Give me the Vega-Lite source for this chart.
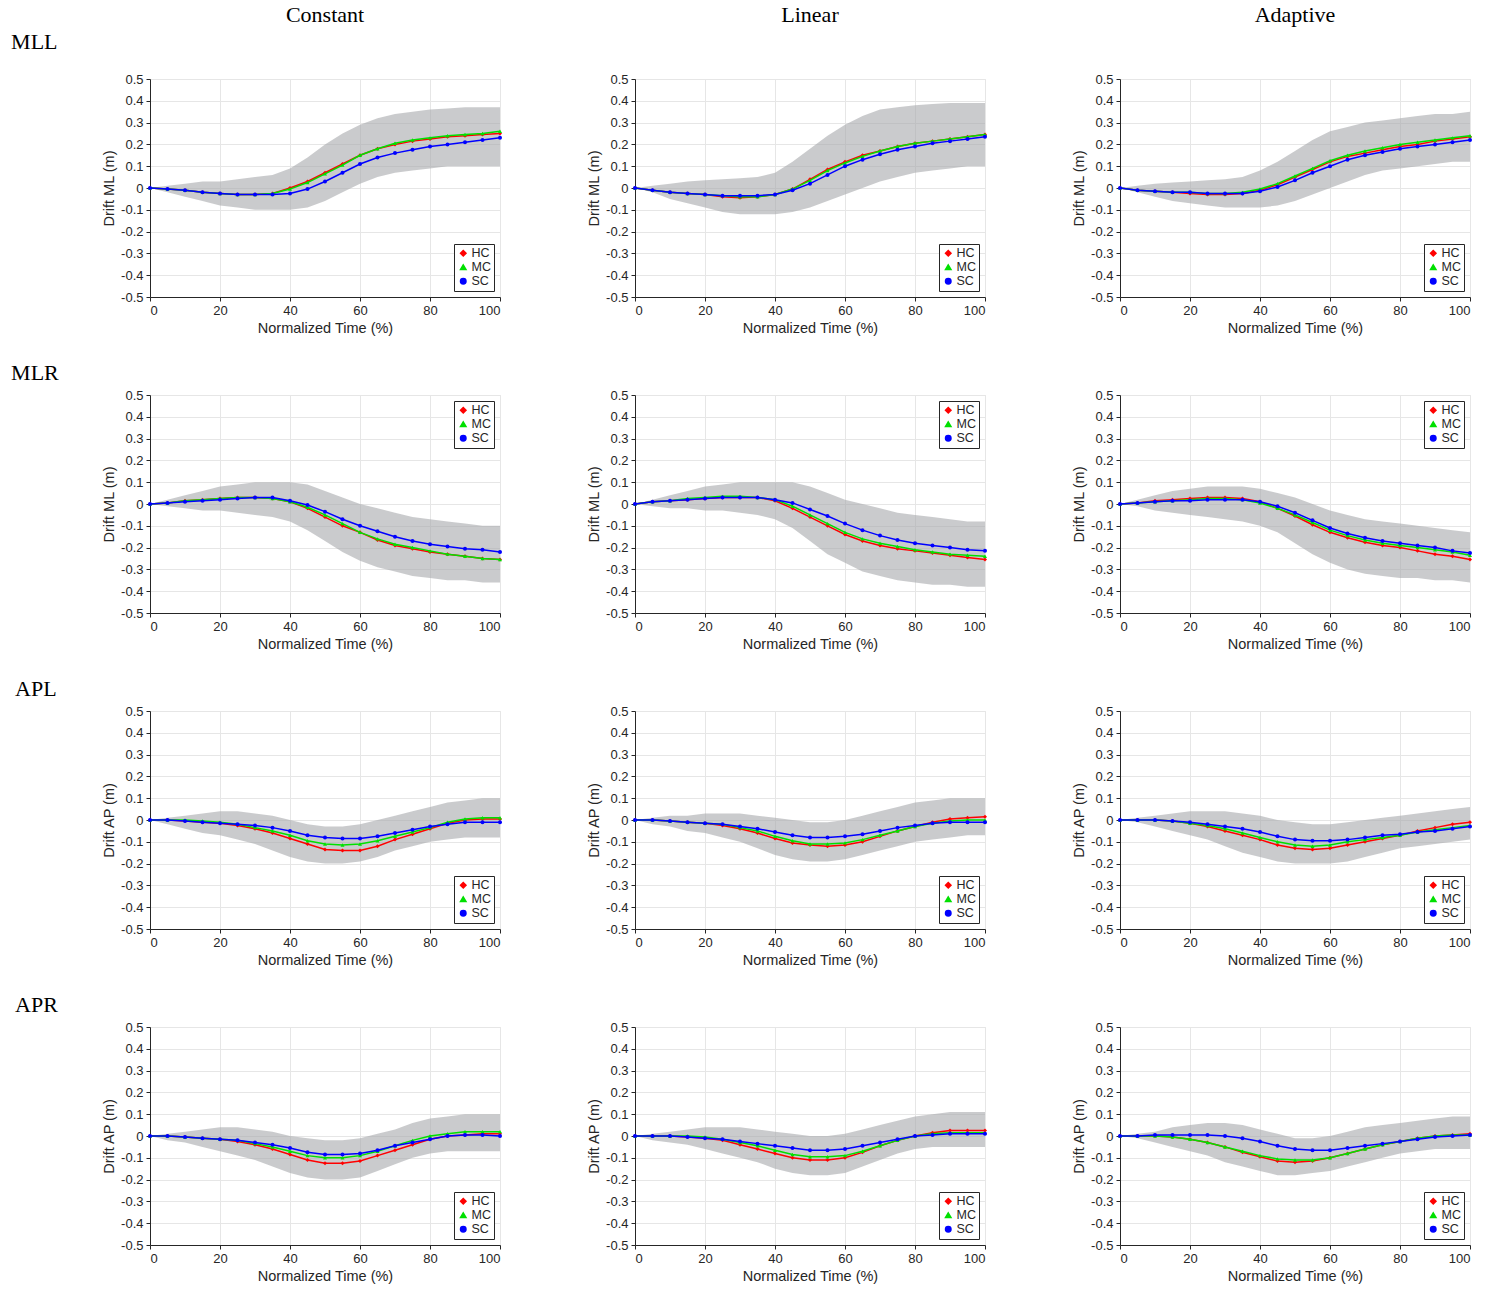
{
"$schema":"https://vega.github.io/schema/vega-lite/v6.json",
"padding":{"left":11,"top":3,"right":5,"bottom":2},
"config":{
 "font":"Liberation Sans",
 "view":{"stroke":"#e2e2e2"},
 "axis":{"labelFontSize":13,"titleFontSize":14.5,"titleFontWeight":"normal","gridColor":"#e6e6e6","domainColor":"#262626","tickColor":"#262626","labelColor":"#262626","titleColor":"#262626","tickSize":4,"labelOverlap":false,"labelPadding":3},
 "axisY":{"titlePadding":4,"labelOverlap":false,"tickCount":11},
 "legend":{"strokeColor":"#262626","fillColor":"white","padding":3,"labelFontSize":12.5,"labelColor":"#262626","symbolSize":30,"rowPadding":1,"offset":6,"symbolStrokeWidth":1.5,"labelOffset":2},
 "title":{"font":"Liberation Serif","fontSize":22,"fontWeight":"normal","color":"black"}
},
"datasets":{
"MLL_C":[
{"t":0,"HC":0,"MC":0,"SC":0,"lo":0,"hi":0},
{"t":5,"HC":-0.005,"MC":-0.005,"SC":-0.005,"lo":-0.02,"hi":0.01},
{"t":10,"HC":-0.01,"MC":-0.01,"SC":-0.01,"lo":-0.04,"hi":0.02},
{"t":15,"HC":-0.02,"MC":-0.02,"SC":-0.02,"lo":-0.06,"hi":0.03},
{"t":20,"HC":-0.025,"MC":-0.025,"SC":-0.025,"lo":-0.08,"hi":0.03},
{"t":25,"HC":-0.03,"MC":-0.03,"SC":-0.03,"lo":-0.09,"hi":0.04},
{"t":30,"HC":-0.03,"MC":-0.03,"SC":-0.03,"lo":-0.1,"hi":0.05},
{"t":35,"HC":-0.025,"MC":-0.025,"SC":-0.03,"lo":-0.1,"hi":0.06},
{"t":40,"HC":0,"MC":-0.005,"SC":-0.025,"lo":-0.1,"hi":0.09},
{"t":45,"HC":0.03,"MC":0.025,"SC":-0.005,"lo":-0.09,"hi":0.14},
{"t":50,"HC":0.07,"MC":0.065,"SC":0.03,"lo":-0.06,"hi":0.2},
{"t":55,"HC":0.11,"MC":0.105,"SC":0.07,"lo":-0.02,"hi":0.25},
{"t":60,"HC":0.15,"MC":0.15,"SC":0.11,"lo":0.02,"hi":0.29},
{"t":65,"HC":0.18,"MC":0.18,"SC":0.14,"lo":0.05,"hi":0.32},
{"t":70,"HC":0.2,"MC":0.205,"SC":0.16,"lo":0.07,"hi":0.34},
{"t":75,"HC":0.215,"MC":0.22,"SC":0.175,"lo":0.08,"hi":0.35},
{"t":80,"HC":0.225,"MC":0.23,"SC":0.19,"lo":0.09,"hi":0.36},
{"t":85,"HC":0.235,"MC":0.24,"SC":0.2,"lo":0.1,"hi":0.365},
{"t":90,"HC":0.24,"MC":0.245,"SC":0.21,"lo":0.1,"hi":0.37},
{"t":95,"HC":0.245,"MC":0.25,"SC":0.22,"lo":0.1,"hi":0.37},
{"t":100,"HC":0.25,"MC":0.26,"SC":0.23,"lo":0.1,"hi":0.37}],
"MLL_L":[
{"t":0,"HC":0,"MC":0,"SC":0,"lo":0,"hi":0},
{"t":5,"HC":-0.01,"MC":-0.01,"SC":-0.01,"lo":-0.02,"hi":0.01},
{"t":10,"HC":-0.02,"MC":-0.02,"SC":-0.02,"lo":-0.05,"hi":0.02},
{"t":15,"HC":-0.025,"MC":-0.025,"SC":-0.025,"lo":-0.07,"hi":0.03},
{"t":20,"HC":-0.03,"MC":-0.03,"SC":-0.03,"lo":-0.09,"hi":0.035},
{"t":25,"HC":-0.04,"MC":-0.035,"SC":-0.035,"lo":-0.11,"hi":0.04},
{"t":30,"HC":-0.045,"MC":-0.04,"SC":-0.035,"lo":-0.12,"hi":0.045},
{"t":35,"HC":-0.04,"MC":-0.04,"SC":-0.035,"lo":-0.12,"hi":0.05},
{"t":40,"HC":-0.03,"MC":-0.03,"SC":-0.03,"lo":-0.12,"hi":0.07},
{"t":45,"HC":-0.005,"MC":-0.005,"SC":-0.01,"lo":-0.11,"hi":0.12},
{"t":50,"HC":0.04,"MC":0.035,"SC":0.02,"lo":-0.09,"hi":0.18},
{"t":55,"HC":0.085,"MC":0.08,"SC":0.06,"lo":-0.06,"hi":0.24},
{"t":60,"HC":0.12,"MC":0.115,"SC":0.1,"lo":-0.03,"hi":0.29},
{"t":65,"HC":0.15,"MC":0.145,"SC":0.13,"lo":0,"hi":0.33},
{"t":70,"HC":0.17,"MC":0.17,"SC":0.155,"lo":0.03,"hi":0.36},
{"t":75,"HC":0.19,"MC":0.19,"SC":0.175,"lo":0.05,"hi":0.37},
{"t":80,"HC":0.205,"MC":0.205,"SC":0.19,"lo":0.07,"hi":0.38},
{"t":85,"HC":0.215,"MC":0.215,"SC":0.205,"lo":0.08,"hi":0.385},
{"t":90,"HC":0.225,"MC":0.225,"SC":0.215,"lo":0.09,"hi":0.39},
{"t":95,"HC":0.235,"MC":0.235,"SC":0.225,"lo":0.1,"hi":0.39},
{"t":100,"HC":0.245,"MC":0.245,"SC":0.235,"lo":0.1,"hi":0.39}],
"MLL_A":[
{"t":0,"HC":0,"MC":0,"SC":0,"lo":0,"hi":0},
{"t":5,"HC":-0.01,"MC":-0.01,"SC":-0.01,"lo":-0.02,"hi":0.01},
{"t":10,"HC":-0.015,"MC":-0.015,"SC":-0.015,"lo":-0.04,"hi":0.02},
{"t":15,"HC":-0.02,"MC":-0.02,"SC":-0.02,"lo":-0.06,"hi":0.025},
{"t":20,"HC":-0.025,"MC":-0.02,"SC":-0.02,"lo":-0.07,"hi":0.03},
{"t":25,"HC":-0.03,"MC":-0.025,"SC":-0.025,"lo":-0.08,"hi":0.035},
{"t":30,"HC":-0.03,"MC":-0.025,"SC":-0.025,"lo":-0.09,"hi":0.04},
{"t":35,"HC":-0.025,"MC":-0.02,"SC":-0.025,"lo":-0.09,"hi":0.05},
{"t":40,"HC":-0.01,"MC":-0.005,"SC":-0.015,"lo":-0.09,"hi":0.08},
{"t":45,"HC":0.015,"MC":0.02,"SC":0.005,"lo":-0.08,"hi":0.12},
{"t":50,"HC":0.05,"MC":0.055,"SC":0.035,"lo":-0.06,"hi":0.17},
{"t":55,"HC":0.085,"MC":0.09,"SC":0.07,"lo":-0.03,"hi":0.22},
{"t":60,"HC":0.12,"MC":0.125,"SC":0.1,"lo":0,"hi":0.26},
{"t":65,"HC":0.145,"MC":0.15,"SC":0.13,"lo":0.03,"hi":0.28},
{"t":70,"HC":0.16,"MC":0.17,"SC":0.15,"lo":0.06,"hi":0.3},
{"t":75,"HC":0.175,"MC":0.185,"SC":0.165,"lo":0.08,"hi":0.31},
{"t":80,"HC":0.19,"MC":0.2,"SC":0.18,"lo":0.09,"hi":0.32},
{"t":85,"HC":0.2,"MC":0.21,"SC":0.19,"lo":0.1,"hi":0.33},
{"t":90,"HC":0.215,"MC":0.22,"SC":0.2,"lo":0.11,"hi":0.34},
{"t":95,"HC":0.225,"MC":0.23,"SC":0.21,"lo":0.12,"hi":0.34},
{"t":100,"HC":0.235,"MC":0.24,"SC":0.22,"lo":0.12,"hi":0.35}],
"MLR_C":[
{"t":0,"HC":0,"MC":0,"SC":0,"lo":0,"hi":0},
{"t":5,"HC":0.005,"MC":0.005,"SC":0.005,"lo":-0.01,"hi":0.02},
{"t":10,"HC":0.015,"MC":0.015,"SC":0.01,"lo":-0.02,"hi":0.04},
{"t":15,"HC":0.02,"MC":0.02,"SC":0.015,"lo":-0.03,"hi":0.06},
{"t":20,"HC":0.025,"MC":0.025,"SC":0.02,"lo":-0.03,"hi":0.08},
{"t":25,"HC":0.03,"MC":0.03,"SC":0.025,"lo":-0.04,"hi":0.09},
{"t":30,"HC":0.03,"MC":0.03,"SC":0.03,"lo":-0.05,"hi":0.1},
{"t":35,"HC":0.025,"MC":0.025,"SC":0.03,"lo":-0.06,"hi":0.1},
{"t":40,"HC":0.01,"MC":0.01,"SC":0.015,"lo":-0.08,"hi":0.1},
{"t":45,"HC":-0.02,"MC":-0.015,"SC":-0.005,"lo":-0.12,"hi":0.09},
{"t":50,"HC":-0.06,"MC":-0.05,"SC":-0.035,"lo":-0.17,"hi":0.06},
{"t":55,"HC":-0.1,"MC":-0.09,"SC":-0.07,"lo":-0.22,"hi":0.03},
{"t":60,"HC":-0.13,"MC":-0.13,"SC":-0.1,"lo":-0.26,"hi":0},
{"t":65,"HC":-0.165,"MC":-0.16,"SC":-0.125,"lo":-0.29,"hi":-0.02},
{"t":70,"HC":-0.19,"MC":-0.185,"SC":-0.15,"lo":-0.31,"hi":-0.04},
{"t":75,"HC":-0.205,"MC":-0.2,"SC":-0.17,"lo":-0.33,"hi":-0.06},
{"t":80,"HC":-0.22,"MC":-0.215,"SC":-0.185,"lo":-0.34,"hi":-0.07},
{"t":85,"HC":-0.23,"MC":-0.23,"SC":-0.195,"lo":-0.35,"hi":-0.08},
{"t":90,"HC":-0.24,"MC":-0.24,"SC":-0.205,"lo":-0.35,"hi":-0.09},
{"t":95,"HC":-0.25,"MC":-0.25,"SC":-0.21,"lo":-0.36,"hi":-0.1},
{"t":100,"HC":-0.255,"MC":-0.255,"SC":-0.22,"lo":-0.36,"hi":-0.1}],
"MLR_L":[
{"t":0,"HC":0,"MC":0,"SC":0,"lo":0,"hi":0},
{"t":5,"HC":0.01,"MC":0.01,"SC":0.01,"lo":-0.01,"hi":0.02},
{"t":10,"HC":0.015,"MC":0.015,"SC":0.015,"lo":-0.02,"hi":0.04},
{"t":15,"HC":0.02,"MC":0.025,"SC":0.02,"lo":-0.02,"hi":0.06},
{"t":20,"HC":0.025,"MC":0.03,"SC":0.025,"lo":-0.03,"hi":0.08},
{"t":25,"HC":0.03,"MC":0.035,"SC":0.03,"lo":-0.03,"hi":0.09},
{"t":30,"HC":0.03,"MC":0.035,"SC":0.03,"lo":-0.04,"hi":0.1},
{"t":35,"HC":0.03,"MC":0.03,"SC":0.03,"lo":-0.05,"hi":0.1},
{"t":40,"HC":0.015,"MC":0.02,"SC":0.02,"lo":-0.07,"hi":0.1},
{"t":45,"HC":-0.02,"MC":-0.01,"SC":0.005,"lo":-0.11,"hi":0.1},
{"t":50,"HC":-0.06,"MC":-0.05,"SC":-0.025,"lo":-0.17,"hi":0.08},
{"t":55,"HC":-0.1,"MC":-0.09,"SC":-0.055,"lo":-0.23,"hi":0.05},
{"t":60,"HC":-0.14,"MC":-0.13,"SC":-0.09,"lo":-0.27,"hi":0.02},
{"t":65,"HC":-0.17,"MC":-0.16,"SC":-0.12,"lo":-0.31,"hi":0},
{"t":70,"HC":-0.19,"MC":-0.18,"SC":-0.145,"lo":-0.33,"hi":-0.02},
{"t":75,"HC":-0.205,"MC":-0.195,"SC":-0.165,"lo":-0.35,"hi":-0.04},
{"t":80,"HC":-0.215,"MC":-0.21,"SC":-0.18,"lo":-0.36,"hi":-0.05},
{"t":85,"HC":-0.225,"MC":-0.22,"SC":-0.19,"lo":-0.37,"hi":-0.06},
{"t":90,"HC":-0.235,"MC":-0.23,"SC":-0.2,"lo":-0.37,"hi":-0.07},
{"t":95,"HC":-0.245,"MC":-0.235,"SC":-0.21,"lo":-0.38,"hi":-0.08},
{"t":100,"HC":-0.255,"MC":-0.24,"SC":-0.215,"lo":-0.38,"hi":-0.08}],
"MLR_A":[
{"t":0,"HC":0,"MC":0,"SC":0,"lo":0,"hi":0},
{"t":5,"HC":0.005,"MC":0.005,"SC":0.005,"lo":-0.01,"hi":0.02},
{"t":10,"HC":0.015,"MC":0.01,"SC":0.01,"lo":-0.03,"hi":0.04},
{"t":15,"HC":0.02,"MC":0.015,"SC":0.015,"lo":-0.04,"hi":0.06},
{"t":20,"HC":0.025,"MC":0.02,"SC":0.015,"lo":-0.05,"hi":0.07},
{"t":25,"HC":0.03,"MC":0.025,"SC":0.02,"lo":-0.06,"hi":0.08},
{"t":30,"HC":0.03,"MC":0.025,"SC":0.02,"lo":-0.07,"hi":0.08},
{"t":35,"HC":0.025,"MC":0.02,"SC":0.02,"lo":-0.08,"hi":0.08},
{"t":40,"HC":0.01,"MC":0.005,"SC":0.01,"lo":-0.1,"hi":0.07},
{"t":45,"HC":-0.02,"MC":-0.02,"SC":-0.01,"lo":-0.13,"hi":0.05},
{"t":50,"HC":-0.055,"MC":-0.05,"SC":-0.04,"lo":-0.18,"hi":0.03},
{"t":55,"HC":-0.095,"MC":-0.085,"SC":-0.075,"lo":-0.23,"hi":0},
{"t":60,"HC":-0.13,"MC":-0.12,"SC":-0.11,"lo":-0.27,"hi":-0.03},
{"t":65,"HC":-0.155,"MC":-0.145,"SC":-0.135,"lo":-0.3,"hi":-0.05},
{"t":70,"HC":-0.175,"MC":-0.165,"SC":-0.155,"lo":-0.32,"hi":-0.07},
{"t":75,"HC":-0.19,"MC":-0.18,"SC":-0.17,"lo":-0.33,"hi":-0.08},
{"t":80,"HC":-0.2,"MC":-0.19,"SC":-0.18,"lo":-0.34,"hi":-0.09},
{"t":85,"HC":-0.215,"MC":-0.2,"SC":-0.19,"lo":-0.34,"hi":-0.1},
{"t":90,"HC":-0.23,"MC":-0.21,"SC":-0.2,"lo":-0.35,"hi":-0.11},
{"t":95,"HC":-0.24,"MC":-0.22,"SC":-0.215,"lo":-0.35,"hi":-0.12},
{"t":100,"HC":-0.255,"MC":-0.235,"SC":-0.225,"lo":-0.36,"hi":-0.13}],
"APL_C":[
{"t":0,"HC":0,"MC":0,"SC":0,"lo":0,"hi":0},
{"t":5,"HC":0,"MC":0,"SC":0,"lo":-0.02,"hi":0.01},
{"t":10,"HC":-0.005,"MC":0,"SC":-0.005,"lo":-0.04,"hi":0.02},
{"t":15,"HC":-0.01,"MC":-0.005,"SC":-0.01,"lo":-0.06,"hi":0.03},
{"t":20,"HC":-0.015,"MC":-0.01,"SC":-0.015,"lo":-0.07,"hi":0.04},
{"t":25,"HC":-0.025,"MC":-0.02,"SC":-0.02,"lo":-0.09,"hi":0.04},
{"t":30,"HC":-0.04,"MC":-0.035,"SC":-0.025,"lo":-0.11,"hi":0.03},
{"t":35,"HC":-0.06,"MC":-0.05,"SC":-0.035,"lo":-0.14,"hi":0.02},
{"t":40,"HC":-0.085,"MC":-0.07,"SC":-0.05,"lo":-0.17,"hi":0},
{"t":45,"HC":-0.11,"MC":-0.095,"SC":-0.07,"lo":-0.19,"hi":-0.02},
{"t":50,"HC":-0.135,"MC":-0.11,"SC":-0.08,"lo":-0.2,"hi":-0.03},
{"t":55,"HC":-0.14,"MC":-0.115,"SC":-0.085,"lo":-0.2,"hi":-0.03},
{"t":60,"HC":-0.14,"MC":-0.11,"SC":-0.085,"lo":-0.19,"hi":-0.02},
{"t":65,"HC":-0.12,"MC":-0.095,"SC":-0.075,"lo":-0.17,"hi":0},
{"t":70,"HC":-0.09,"MC":-0.075,"SC":-0.06,"lo":-0.14,"hi":0.02},
{"t":75,"HC":-0.065,"MC":-0.055,"SC":-0.045,"lo":-0.12,"hi":0.04},
{"t":80,"HC":-0.04,"MC":-0.035,"SC":-0.03,"lo":-0.1,"hi":0.06},
{"t":85,"HC":-0.015,"MC":-0.01,"SC":-0.02,"lo":-0.09,"hi":0.08},
{"t":90,"HC":0,"MC":0.005,"SC":-0.01,"lo":-0.08,"hi":0.09},
{"t":95,"HC":0.005,"MC":0.01,"SC":-0.01,"lo":-0.08,"hi":0.1},
{"t":100,"HC":0.005,"MC":0.01,"SC":-0.01,"lo":-0.08,"hi":0.1}],
"APL_L":[
{"t":0,"HC":0,"MC":0,"SC":0,"lo":0,"hi":0},
{"t":5,"HC":0,"MC":0,"SC":0,"lo":-0.02,"hi":0.01},
{"t":10,"HC":-0.005,"MC":-0.005,"SC":-0.005,"lo":-0.03,"hi":0.02},
{"t":15,"HC":-0.01,"MC":-0.01,"SC":-0.01,"lo":-0.05,"hi":0.02},
{"t":20,"HC":-0.015,"MC":-0.015,"SC":-0.015,"lo":-0.06,"hi":0.03},
{"t":25,"HC":-0.025,"MC":-0.02,"SC":-0.02,"lo":-0.08,"hi":0.03},
{"t":30,"HC":-0.04,"MC":-0.035,"SC":-0.03,"lo":-0.1,"hi":0.03},
{"t":35,"HC":-0.06,"MC":-0.05,"SC":-0.04,"lo":-0.13,"hi":0.02},
{"t":40,"HC":-0.085,"MC":-0.075,"SC":-0.055,"lo":-0.16,"hi":0.01},
{"t":45,"HC":-0.105,"MC":-0.095,"SC":-0.07,"lo":-0.18,"hi":0},
{"t":50,"HC":-0.115,"MC":-0.11,"SC":-0.08,"lo":-0.19,"hi":-0.01},
{"t":55,"HC":-0.12,"MC":-0.11,"SC":-0.08,"lo":-0.19,"hi":-0.01},
{"t":60,"HC":-0.115,"MC":-0.105,"SC":-0.075,"lo":-0.18,"hi":0},
{"t":65,"HC":-0.1,"MC":-0.09,"SC":-0.065,"lo":-0.16,"hi":0.02},
{"t":70,"HC":-0.075,"MC":-0.07,"SC":-0.05,"lo":-0.14,"hi":0.04},
{"t":75,"HC":-0.05,"MC":-0.05,"SC":-0.035,"lo":-0.12,"hi":0.06},
{"t":80,"HC":-0.03,"MC":-0.03,"SC":-0.025,"lo":-0.1,"hi":0.08},
{"t":85,"HC":-0.01,"MC":-0.015,"SC":-0.015,"lo":-0.09,"hi":0.09},
{"t":90,"HC":0.005,"MC":-0.005,"SC":-0.01,"lo":-0.08,"hi":0.1},
{"t":95,"HC":0.01,"MC":0,"SC":-0.01,"lo":-0.07,"hi":0.1},
{"t":100,"HC":0.015,"MC":0,"SC":-0.01,"lo":-0.07,"hi":0.1}],
"APL_A":[
{"t":0,"HC":0,"MC":0,"SC":0,"lo":0,"hi":0},
{"t":5,"HC":0,"MC":0,"SC":0,"lo":-0.01,"hi":0.01},
{"t":10,"HC":0,"MC":0,"SC":0,"lo":-0.03,"hi":0.02},
{"t":15,"HC":-0.005,"MC":-0.005,"SC":-0.005,"lo":-0.05,"hi":0.03},
{"t":20,"HC":-0.015,"MC":-0.015,"SC":-0.01,"lo":-0.07,"hi":0.04},
{"t":25,"HC":-0.03,"MC":-0.025,"SC":-0.02,"lo":-0.09,"hi":0.04},
{"t":30,"HC":-0.05,"MC":-0.04,"SC":-0.03,"lo":-0.12,"hi":0.04},
{"t":35,"HC":-0.07,"MC":-0.06,"SC":-0.04,"lo":-0.15,"hi":0.03},
{"t":40,"HC":-0.09,"MC":-0.08,"SC":-0.055,"lo":-0.17,"hi":0.02},
{"t":45,"HC":-0.115,"MC":-0.1,"SC":-0.075,"lo":-0.19,"hi":0},
{"t":50,"HC":-0.13,"MC":-0.115,"SC":-0.09,"lo":-0.2,"hi":-0.01},
{"t":55,"HC":-0.135,"MC":-0.12,"SC":-0.095,"lo":-0.2,"hi":-0.02},
{"t":60,"HC":-0.13,"MC":-0.115,"SC":-0.095,"lo":-0.2,"hi":-0.02},
{"t":65,"HC":-0.115,"MC":-0.1,"SC":-0.09,"lo":-0.19,"hi":-0.01},
{"t":70,"HC":-0.1,"MC":-0.09,"SC":-0.08,"lo":-0.17,"hi":0},
{"t":75,"HC":-0.085,"MC":-0.08,"SC":-0.07,"lo":-0.15,"hi":0.01},
{"t":80,"HC":-0.07,"MC":-0.07,"SC":-0.065,"lo":-0.13,"hi":0.02},
{"t":85,"HC":-0.05,"MC":-0.055,"SC":-0.055,"lo":-0.12,"hi":0.03},
{"t":90,"HC":-0.035,"MC":-0.045,"SC":-0.05,"lo":-0.11,"hi":0.04},
{"t":95,"HC":-0.02,"MC":-0.035,"SC":-0.04,"lo":-0.1,"hi":0.05},
{"t":100,"HC":-0.01,"MC":-0.025,"SC":-0.03,"lo":-0.09,"hi":0.06}],
"APR_C":[
{"t":0,"HC":0,"MC":0,"SC":0,"lo":0,"hi":0},
{"t":5,"HC":0,"MC":0,"SC":0,"lo":-0.02,"hi":0.01},
{"t":10,"HC":-0.005,"MC":-0.005,"SC":-0.005,"lo":-0.03,"hi":0.02},
{"t":15,"HC":-0.01,"MC":-0.01,"SC":-0.01,"lo":-0.05,"hi":0.03},
{"t":20,"HC":-0.015,"MC":-0.015,"SC":-0.015,"lo":-0.07,"hi":0.04},
{"t":25,"HC":-0.025,"MC":-0.02,"SC":-0.02,"lo":-0.09,"hi":0.04},
{"t":30,"HC":-0.04,"MC":-0.035,"SC":-0.03,"lo":-0.11,"hi":0.03},
{"t":35,"HC":-0.06,"MC":-0.05,"SC":-0.04,"lo":-0.14,"hi":0.02},
{"t":40,"HC":-0.085,"MC":-0.07,"SC":-0.055,"lo":-0.17,"hi":0},
{"t":45,"HC":-0.11,"MC":-0.09,"SC":-0.075,"lo":-0.19,"hi":-0.01},
{"t":50,"HC":-0.125,"MC":-0.1,"SC":-0.085,"lo":-0.2,"hi":-0.02},
{"t":55,"HC":-0.125,"MC":-0.1,"SC":-0.085,"lo":-0.2,"hi":-0.02},
{"t":60,"HC":-0.115,"MC":-0.09,"SC":-0.08,"lo":-0.19,"hi":-0.01},
{"t":65,"HC":-0.09,"MC":-0.07,"SC":-0.065,"lo":-0.16,"hi":0.01},
{"t":70,"HC":-0.065,"MC":-0.045,"SC":-0.045,"lo":-0.13,"hi":0.03},
{"t":75,"HC":-0.04,"MC":-0.02,"SC":-0.03,"lo":-0.1,"hi":0.06},
{"t":80,"HC":-0.015,"MC":0,"SC":-0.015,"lo":-0.08,"hi":0.08},
{"t":85,"HC":0,"MC":0.01,"SC":0,"lo":-0.07,"hi":0.09},
{"t":90,"HC":0.005,"MC":0.02,"SC":0.005,"lo":-0.07,"hi":0.1},
{"t":95,"HC":0.01,"MC":0.02,"SC":0.005,"lo":-0.07,"hi":0.1},
{"t":100,"HC":0.01,"MC":0.02,"SC":0,"lo":-0.07,"hi":0.1}],
"APR_L":[
{"t":0,"HC":0,"MC":0,"SC":0,"lo":0,"hi":0},
{"t":5,"HC":0,"MC":0,"SC":0,"lo":-0.02,"hi":0.01},
{"t":10,"HC":0,"MC":0,"SC":0,"lo":-0.03,"hi":0.02},
{"t":15,"HC":-0.005,"MC":0,"SC":-0.005,"lo":-0.04,"hi":0.03},
{"t":20,"HC":-0.01,"MC":-0.005,"SC":-0.01,"lo":-0.06,"hi":0.04},
{"t":25,"HC":-0.02,"MC":-0.015,"SC":-0.015,"lo":-0.08,"hi":0.04},
{"t":30,"HC":-0.04,"MC":-0.03,"SC":-0.025,"lo":-0.1,"hi":0.04},
{"t":35,"HC":-0.06,"MC":-0.045,"SC":-0.035,"lo":-0.12,"hi":0.03},
{"t":40,"HC":-0.08,"MC":-0.065,"SC":-0.045,"lo":-0.15,"hi":0.02},
{"t":45,"HC":-0.1,"MC":-0.085,"SC":-0.055,"lo":-0.17,"hi":0.01},
{"t":50,"HC":-0.11,"MC":-0.095,"SC":-0.065,"lo":-0.18,"hi":0},
{"t":55,"HC":-0.11,"MC":-0.095,"SC":-0.065,"lo":-0.18,"hi":0},
{"t":60,"HC":-0.1,"MC":-0.09,"SC":-0.06,"lo":-0.17,"hi":0.01},
{"t":65,"HC":-0.075,"MC":-0.07,"SC":-0.045,"lo":-0.14,"hi":0.03},
{"t":70,"HC":-0.045,"MC":-0.045,"SC":-0.03,"lo":-0.11,"hi":0.05},
{"t":75,"HC":-0.02,"MC":-0.02,"SC":-0.015,"lo":-0.08,"hi":0.07},
{"t":80,"HC":0,"MC":0,"SC":0,"lo":-0.06,"hi":0.09},
{"t":85,"HC":0.015,"MC":0.01,"SC":0.005,"lo":-0.05,"hi":0.1},
{"t":90,"HC":0.025,"MC":0.015,"SC":0.01,"lo":-0.05,"hi":0.11},
{"t":95,"HC":0.025,"MC":0.015,"SC":0.01,"lo":-0.05,"hi":0.11},
{"t":100,"HC":0.025,"MC":0.015,"SC":0.01,"lo":-0.05,"hi":0.11}],
"APR_A":[
{"t":0,"HC":0,"MC":0,"SC":0,"lo":0,"hi":0},
{"t":5,"HC":0,"MC":0,"SC":0,"lo":-0.01,"hi":0.01},
{"t":10,"HC":0,"MC":0,"SC":0.005,"lo":-0.03,"hi":0.02},
{"t":15,"HC":-0.005,"MC":-0.005,"SC":0.005,"lo":-0.05,"hi":0.04},
{"t":20,"HC":-0.015,"MC":-0.015,"SC":0.005,"lo":-0.07,"hi":0.05},
{"t":25,"HC":-0.03,"MC":-0.03,"SC":0.005,"lo":-0.09,"hi":0.06},
{"t":30,"HC":-0.05,"MC":-0.05,"SC":0,"lo":-0.12,"hi":0.06},
{"t":35,"HC":-0.075,"MC":-0.07,"SC":-0.01,"lo":-0.14,"hi":0.05},
{"t":40,"HC":-0.095,"MC":-0.09,"SC":-0.025,"lo":-0.16,"hi":0.03},
{"t":45,"HC":-0.115,"MC":-0.105,"SC":-0.045,"lo":-0.18,"hi":0.01},
{"t":50,"HC":-0.12,"MC":-0.11,"SC":-0.06,"lo":-0.18,"hi":-0.01},
{"t":55,"HC":-0.115,"MC":-0.11,"SC":-0.065,"lo":-0.17,"hi":-0.01},
{"t":60,"HC":-0.1,"MC":-0.1,"SC":-0.065,"lo":-0.16,"hi":0},
{"t":65,"HC":-0.08,"MC":-0.08,"SC":-0.055,"lo":-0.14,"hi":0.02},
{"t":70,"HC":-0.06,"MC":-0.06,"SC":-0.045,"lo":-0.12,"hi":0.04},
{"t":75,"HC":-0.04,"MC":-0.04,"SC":-0.035,"lo":-0.1,"hi":0.05},
{"t":80,"HC":-0.025,"MC":-0.025,"SC":-0.025,"lo":-0.08,"hi":0.06},
{"t":85,"HC":-0.01,"MC":-0.01,"SC":-0.015,"lo":-0.07,"hi":0.07},
{"t":90,"HC":0,"MC":0,"SC":-0.005,"lo":-0.06,"hi":0.08},
{"t":95,"HC":0.005,"MC":0.005,"SC":0,"lo":-0.06,"hi":0.09},
{"t":100,"HC":0.01,"MC":0.005,"SC":0.005,"lo":-0.06,"hi":0.09}]
},
"resolve":{"legend":{"color":"independent","shape":"independent"}},
"spacing":26,
"vconcat":[
{"title":{"text":"MLL","anchor":"start","dx":-90,"offset":-50},"spacing":82,"resolve":{"legend":{"color":"independent","shape":"independent"}},"hconcat":[
 {"title":{"text":"Constant","offset":46},"width":350,"height":218,"data":{"name":"MLL_C"},"layer":[
  {"mark":{"type":"area","color":"#a6a8ab","opacity":0.6},"encoding":{"x":{"field":"t","type":"quantitative","scale":{"domain":[0,100]},"axis":{"values":[0,20,40,60,80,100],"title":"Normalized Time (%)"}},"y":{"field":"lo","type":"quantitative","scale":{"domain":[-0.5,0.5]},"axis":{"values":[-0.5,-0.4,-0.3,-0.2,-0.1,0,0.1,0.2,0.3,0.4,0.5],"tickCount":11,"labelOverlap":false,"labelExpr":"replace(format(datum.value,'.1~f'),'−','-')","title":"Drift ML (m)"}},"y2":{"field":"hi"}}},
  {"mark":{"type":"line","strokeWidth":1.5,"point":{"size":16,"filled":true}},"encoding":{"x":{"field":"t","type":"quantitative"},"y":{"field":"HC","type":"quantitative"},"color":{"datum":"HC","type":"nominal","scale":{"domain":["HC","MC","SC"],"range":["#ff0000","#00e000","#0000ff"]},"legend":{"title":null,"orient":"bottom-right"}},"shape":{"datum":"HC","type":"nominal","scale":{"domain":["HC","MC","SC"],"range":["diamond","triangle-up","circle"]},"legend":{"title":null,"orient":"bottom-right"}}}},
  {"mark":{"type":"line","strokeWidth":1.5,"point":{"size":16,"filled":true}},"encoding":{"x":{"field":"t","type":"quantitative"},"y":{"field":"MC","type":"quantitative"},"color":{"datum":"MC","type":"nominal"},"shape":{"datum":"MC","type":"nominal"}}},
  {"mark":{"type":"line","strokeWidth":1.5,"point":{"size":16,"filled":true}},"encoding":{"x":{"field":"t","type":"quantitative"},"y":{"field":"SC","type":"quantitative"},"color":{"datum":"SC","type":"nominal"},"shape":{"datum":"SC","type":"nominal"}}}
 ]},
 {"title":{"text":"Linear","offset":46},"width":350,"height":218,"data":{"name":"MLL_L"},"layer":[
  {"mark":{"type":"area","color":"#a6a8ab","opacity":0.6},"encoding":{"x":{"field":"t","type":"quantitative","scale":{"domain":[0,100]},"axis":{"values":[0,20,40,60,80,100],"title":"Normalized Time (%)"}},"y":{"field":"lo","type":"quantitative","scale":{"domain":[-0.5,0.5]},"axis":{"values":[-0.5,-0.4,-0.3,-0.2,-0.1,0,0.1,0.2,0.3,0.4,0.5],"tickCount":11,"labelOverlap":false,"labelExpr":"replace(format(datum.value,'.1~f'),'−','-')","title":"Drift ML (m)"}},"y2":{"field":"hi"}}},
  {"mark":{"type":"line","strokeWidth":1.5,"point":{"size":16,"filled":true}},"encoding":{"x":{"field":"t","type":"quantitative"},"y":{"field":"HC","type":"quantitative"},"color":{"datum":"HC","type":"nominal","scale":{"domain":["HC","MC","SC"],"range":["#ff0000","#00e000","#0000ff"]},"legend":{"title":null,"orient":"bottom-right"}},"shape":{"datum":"HC","type":"nominal","scale":{"domain":["HC","MC","SC"],"range":["diamond","triangle-up","circle"]},"legend":{"title":null,"orient":"bottom-right"}}}},
  {"mark":{"type":"line","strokeWidth":1.5,"point":{"size":16,"filled":true}},"encoding":{"x":{"field":"t","type":"quantitative"},"y":{"field":"MC","type":"quantitative"},"color":{"datum":"MC","type":"nominal"},"shape":{"datum":"MC","type":"nominal"}}},
  {"mark":{"type":"line","strokeWidth":1.5,"point":{"size":16,"filled":true}},"encoding":{"x":{"field":"t","type":"quantitative"},"y":{"field":"SC","type":"quantitative"},"color":{"datum":"SC","type":"nominal"},"shape":{"datum":"SC","type":"nominal"}}}
 ]},
 {"title":{"text":"Adaptive","offset":46},"width":350,"height":218,"data":{"name":"MLL_A"},"layer":[
  {"mark":{"type":"area","color":"#a6a8ab","opacity":0.6},"encoding":{"x":{"field":"t","type":"quantitative","scale":{"domain":[0,100]},"axis":{"values":[0,20,40,60,80,100],"title":"Normalized Time (%)"}},"y":{"field":"lo","type":"quantitative","scale":{"domain":[-0.5,0.5]},"axis":{"values":[-0.5,-0.4,-0.3,-0.2,-0.1,0,0.1,0.2,0.3,0.4,0.5],"tickCount":11,"labelOverlap":false,"labelExpr":"replace(format(datum.value,'.1~f'),'−','-')","title":"Drift ML (m)"}},"y2":{"field":"hi"}}},
  {"mark":{"type":"line","strokeWidth":1.5,"point":{"size":16,"filled":true}},"encoding":{"x":{"field":"t","type":"quantitative"},"y":{"field":"HC","type":"quantitative"},"color":{"datum":"HC","type":"nominal","scale":{"domain":["HC","MC","SC"],"range":["#ff0000","#00e000","#0000ff"]},"legend":{"title":null,"orient":"bottom-right"}},"shape":{"datum":"HC","type":"nominal","scale":{"domain":["HC","MC","SC"],"range":["diamond","triangle-up","circle"]},"legend":{"title":null,"orient":"bottom-right"}}}},
  {"mark":{"type":"line","strokeWidth":1.5,"point":{"size":16,"filled":true}},"encoding":{"x":{"field":"t","type":"quantitative"},"y":{"field":"MC","type":"quantitative"},"color":{"datum":"MC","type":"nominal"},"shape":{"datum":"MC","type":"nominal"}}},
  {"mark":{"type":"line","strokeWidth":1.5,"point":{"size":16,"filled":true}},"encoding":{"x":{"field":"t","type":"quantitative"},"y":{"field":"SC","type":"quantitative"},"color":{"datum":"SC","type":"nominal"},"shape":{"datum":"SC","type":"nominal"}}}
 ]}
]},
{"title":{"text":"MLR","anchor":"start","dx":-90},"spacing":82,"resolve":{"legend":{"color":"independent","shape":"independent"}},"hconcat":[
 {"width":350,"height":218,"data":{"name":"MLR_C"},"layer":[
  {"mark":{"type":"area","color":"#a6a8ab","opacity":0.6},"encoding":{"x":{"field":"t","type":"quantitative","scale":{"domain":[0,100]},"axis":{"values":[0,20,40,60,80,100],"title":"Normalized Time (%)"}},"y":{"field":"lo","type":"quantitative","scale":{"domain":[-0.5,0.5]},"axis":{"values":[-0.5,-0.4,-0.3,-0.2,-0.1,0,0.1,0.2,0.3,0.4,0.5],"tickCount":11,"labelOverlap":false,"labelExpr":"replace(format(datum.value,'.1~f'),'−','-')","title":"Drift ML (m)"}},"y2":{"field":"hi"}}},
  {"mark":{"type":"line","strokeWidth":1.5,"point":{"size":16,"filled":true}},"encoding":{"x":{"field":"t","type":"quantitative"},"y":{"field":"HC","type":"quantitative"},"color":{"datum":"HC","type":"nominal","scale":{"domain":["HC","MC","SC"],"range":["#ff0000","#00e000","#0000ff"]},"legend":{"title":null,"orient":"top-right"}},"shape":{"datum":"HC","type":"nominal","scale":{"domain":["HC","MC","SC"],"range":["diamond","triangle-up","circle"]},"legend":{"title":null,"orient":"top-right"}}}},
  {"mark":{"type":"line","strokeWidth":1.5,"point":{"size":16,"filled":true}},"encoding":{"x":{"field":"t","type":"quantitative"},"y":{"field":"MC","type":"quantitative"},"color":{"datum":"MC","type":"nominal"},"shape":{"datum":"MC","type":"nominal"}}},
  {"mark":{"type":"line","strokeWidth":1.5,"point":{"size":16,"filled":true}},"encoding":{"x":{"field":"t","type":"quantitative"},"y":{"field":"SC","type":"quantitative"},"color":{"datum":"SC","type":"nominal"},"shape":{"datum":"SC","type":"nominal"}}}
 ]},
 {"width":350,"height":218,"data":{"name":"MLR_L"},"layer":[
  {"mark":{"type":"area","color":"#a6a8ab","opacity":0.6},"encoding":{"x":{"field":"t","type":"quantitative","scale":{"domain":[0,100]},"axis":{"values":[0,20,40,60,80,100],"title":"Normalized Time (%)"}},"y":{"field":"lo","type":"quantitative","scale":{"domain":[-0.5,0.5]},"axis":{"values":[-0.5,-0.4,-0.3,-0.2,-0.1,0,0.1,0.2,0.3,0.4,0.5],"tickCount":11,"labelOverlap":false,"labelExpr":"replace(format(datum.value,'.1~f'),'−','-')","title":"Drift ML (m)"}},"y2":{"field":"hi"}}},
  {"mark":{"type":"line","strokeWidth":1.5,"point":{"size":16,"filled":true}},"encoding":{"x":{"field":"t","type":"quantitative"},"y":{"field":"HC","type":"quantitative"},"color":{"datum":"HC","type":"nominal","scale":{"domain":["HC","MC","SC"],"range":["#ff0000","#00e000","#0000ff"]},"legend":{"title":null,"orient":"top-right"}},"shape":{"datum":"HC","type":"nominal","scale":{"domain":["HC","MC","SC"],"range":["diamond","triangle-up","circle"]},"legend":{"title":null,"orient":"top-right"}}}},
  {"mark":{"type":"line","strokeWidth":1.5,"point":{"size":16,"filled":true}},"encoding":{"x":{"field":"t","type":"quantitative"},"y":{"field":"MC","type":"quantitative"},"color":{"datum":"MC","type":"nominal"},"shape":{"datum":"MC","type":"nominal"}}},
  {"mark":{"type":"line","strokeWidth":1.5,"point":{"size":16,"filled":true}},"encoding":{"x":{"field":"t","type":"quantitative"},"y":{"field":"SC","type":"quantitative"},"color":{"datum":"SC","type":"nominal"},"shape":{"datum":"SC","type":"nominal"}}}
 ]},
 {"width":350,"height":218,"data":{"name":"MLR_A"},"layer":[
  {"mark":{"type":"area","color":"#a6a8ab","opacity":0.6},"encoding":{"x":{"field":"t","type":"quantitative","scale":{"domain":[0,100]},"axis":{"values":[0,20,40,60,80,100],"title":"Normalized Time (%)"}},"y":{"field":"lo","type":"quantitative","scale":{"domain":[-0.5,0.5]},"axis":{"values":[-0.5,-0.4,-0.3,-0.2,-0.1,0,0.1,0.2,0.3,0.4,0.5],"tickCount":11,"labelOverlap":false,"labelExpr":"replace(format(datum.value,'.1~f'),'−','-')","title":"Drift ML (m)"}},"y2":{"field":"hi"}}},
  {"mark":{"type":"line","strokeWidth":1.5,"point":{"size":16,"filled":true}},"encoding":{"x":{"field":"t","type":"quantitative"},"y":{"field":"HC","type":"quantitative"},"color":{"datum":"HC","type":"nominal","scale":{"domain":["HC","MC","SC"],"range":["#ff0000","#00e000","#0000ff"]},"legend":{"title":null,"orient":"top-right"}},"shape":{"datum":"HC","type":"nominal","scale":{"domain":["HC","MC","SC"],"range":["diamond","triangle-up","circle"]},"legend":{"title":null,"orient":"top-right"}}}},
  {"mark":{"type":"line","strokeWidth":1.5,"point":{"size":16,"filled":true}},"encoding":{"x":{"field":"t","type":"quantitative"},"y":{"field":"MC","type":"quantitative"},"color":{"datum":"MC","type":"nominal"},"shape":{"datum":"MC","type":"nominal"}}},
  {"mark":{"type":"line","strokeWidth":1.5,"point":{"size":16,"filled":true}},"encoding":{"x":{"field":"t","type":"quantitative"},"y":{"field":"SC","type":"quantitative"},"color":{"datum":"SC","type":"nominal"},"shape":{"datum":"SC","type":"nominal"}}}
 ]}
]},
{"title":{"text":"APL","anchor":"start","dx":-86},"spacing":82,"resolve":{"legend":{"color":"independent","shape":"independent"}},"hconcat":[
 {"width":350,"height":218,"data":{"name":"APL_C"},"layer":[
  {"mark":{"type":"area","color":"#a6a8ab","opacity":0.6},"encoding":{"x":{"field":"t","type":"quantitative","scale":{"domain":[0,100]},"axis":{"values":[0,20,40,60,80,100],"title":"Normalized Time (%)"}},"y":{"field":"lo","type":"quantitative","scale":{"domain":[-0.5,0.5]},"axis":{"values":[-0.5,-0.4,-0.3,-0.2,-0.1,0,0.1,0.2,0.3,0.4,0.5],"tickCount":11,"labelOverlap":false,"labelExpr":"replace(format(datum.value,'.1~f'),'−','-')","title":"Drift AP (m)"}},"y2":{"field":"hi"}}},
  {"mark":{"type":"line","strokeWidth":1.5,"point":{"size":16,"filled":true}},"encoding":{"x":{"field":"t","type":"quantitative"},"y":{"field":"HC","type":"quantitative"},"color":{"datum":"HC","type":"nominal","scale":{"domain":["HC","MC","SC"],"range":["#ff0000","#00e000","#0000ff"]},"legend":{"title":null,"orient":"bottom-right"}},"shape":{"datum":"HC","type":"nominal","scale":{"domain":["HC","MC","SC"],"range":["diamond","triangle-up","circle"]},"legend":{"title":null,"orient":"bottom-right"}}}},
  {"mark":{"type":"line","strokeWidth":1.5,"point":{"size":16,"filled":true}},"encoding":{"x":{"field":"t","type":"quantitative"},"y":{"field":"MC","type":"quantitative"},"color":{"datum":"MC","type":"nominal"},"shape":{"datum":"MC","type":"nominal"}}},
  {"mark":{"type":"line","strokeWidth":1.5,"point":{"size":16,"filled":true}},"encoding":{"x":{"field":"t","type":"quantitative"},"y":{"field":"SC","type":"quantitative"},"color":{"datum":"SC","type":"nominal"},"shape":{"datum":"SC","type":"nominal"}}}
 ]},
 {"width":350,"height":218,"data":{"name":"APL_L"},"layer":[
  {"mark":{"type":"area","color":"#a6a8ab","opacity":0.6},"encoding":{"x":{"field":"t","type":"quantitative","scale":{"domain":[0,100]},"axis":{"values":[0,20,40,60,80,100],"title":"Normalized Time (%)"}},"y":{"field":"lo","type":"quantitative","scale":{"domain":[-0.5,0.5]},"axis":{"values":[-0.5,-0.4,-0.3,-0.2,-0.1,0,0.1,0.2,0.3,0.4,0.5],"tickCount":11,"labelOverlap":false,"labelExpr":"replace(format(datum.value,'.1~f'),'−','-')","title":"Drift AP (m)"}},"y2":{"field":"hi"}}},
  {"mark":{"type":"line","strokeWidth":1.5,"point":{"size":16,"filled":true}},"encoding":{"x":{"field":"t","type":"quantitative"},"y":{"field":"HC","type":"quantitative"},"color":{"datum":"HC","type":"nominal","scale":{"domain":["HC","MC","SC"],"range":["#ff0000","#00e000","#0000ff"]},"legend":{"title":null,"orient":"bottom-right"}},"shape":{"datum":"HC","type":"nominal","scale":{"domain":["HC","MC","SC"],"range":["diamond","triangle-up","circle"]},"legend":{"title":null,"orient":"bottom-right"}}}},
  {"mark":{"type":"line","strokeWidth":1.5,"point":{"size":16,"filled":true}},"encoding":{"x":{"field":"t","type":"quantitative"},"y":{"field":"MC","type":"quantitative"},"color":{"datum":"MC","type":"nominal"},"shape":{"datum":"MC","type":"nominal"}}},
  {"mark":{"type":"line","strokeWidth":1.5,"point":{"size":16,"filled":true}},"encoding":{"x":{"field":"t","type":"quantitative"},"y":{"field":"SC","type":"quantitative"},"color":{"datum":"SC","type":"nominal"},"shape":{"datum":"SC","type":"nominal"}}}
 ]},
 {"width":350,"height":218,"data":{"name":"APL_A"},"layer":[
  {"mark":{"type":"area","color":"#a6a8ab","opacity":0.6},"encoding":{"x":{"field":"t","type":"quantitative","scale":{"domain":[0,100]},"axis":{"values":[0,20,40,60,80,100],"title":"Normalized Time (%)"}},"y":{"field":"lo","type":"quantitative","scale":{"domain":[-0.5,0.5]},"axis":{"values":[-0.5,-0.4,-0.3,-0.2,-0.1,0,0.1,0.2,0.3,0.4,0.5],"tickCount":11,"labelOverlap":false,"labelExpr":"replace(format(datum.value,'.1~f'),'−','-')","title":"Drift AP (m)"}},"y2":{"field":"hi"}}},
  {"mark":{"type":"line","strokeWidth":1.5,"point":{"size":16,"filled":true}},"encoding":{"x":{"field":"t","type":"quantitative"},"y":{"field":"HC","type":"quantitative"},"color":{"datum":"HC","type":"nominal","scale":{"domain":["HC","MC","SC"],"range":["#ff0000","#00e000","#0000ff"]},"legend":{"title":null,"orient":"bottom-right"}},"shape":{"datum":"HC","type":"nominal","scale":{"domain":["HC","MC","SC"],"range":["diamond","triangle-up","circle"]},"legend":{"title":null,"orient":"bottom-right"}}}},
  {"mark":{"type":"line","strokeWidth":1.5,"point":{"size":16,"filled":true}},"encoding":{"x":{"field":"t","type":"quantitative"},"y":{"field":"MC","type":"quantitative"},"color":{"datum":"MC","type":"nominal"},"shape":{"datum":"MC","type":"nominal"}}},
  {"mark":{"type":"line","strokeWidth":1.5,"point":{"size":16,"filled":true}},"encoding":{"x":{"field":"t","type":"quantitative"},"y":{"field":"SC","type":"quantitative"},"color":{"datum":"SC","type":"nominal"},"shape":{"datum":"SC","type":"nominal"}}}
 ]}
]},
{"title":{"text":"APR","anchor":"start","dx":-86},"spacing":82,"resolve":{"legend":{"color":"independent","shape":"independent"}},"hconcat":[
 {"width":350,"height":218,"data":{"name":"APR_C"},"layer":[
  {"mark":{"type":"area","color":"#a6a8ab","opacity":0.6},"encoding":{"x":{"field":"t","type":"quantitative","scale":{"domain":[0,100]},"axis":{"values":[0,20,40,60,80,100],"title":"Normalized Time (%)"}},"y":{"field":"lo","type":"quantitative","scale":{"domain":[-0.5,0.5]},"axis":{"values":[-0.5,-0.4,-0.3,-0.2,-0.1,0,0.1,0.2,0.3,0.4,0.5],"tickCount":11,"labelOverlap":false,"labelExpr":"replace(format(datum.value,'.1~f'),'−','-')","title":"Drift AP (m)"}},"y2":{"field":"hi"}}},
  {"mark":{"type":"line","strokeWidth":1.5,"point":{"size":16,"filled":true}},"encoding":{"x":{"field":"t","type":"quantitative"},"y":{"field":"HC","type":"quantitative"},"color":{"datum":"HC","type":"nominal","scale":{"domain":["HC","MC","SC"],"range":["#ff0000","#00e000","#0000ff"]},"legend":{"title":null,"orient":"bottom-right"}},"shape":{"datum":"HC","type":"nominal","scale":{"domain":["HC","MC","SC"],"range":["diamond","triangle-up","circle"]},"legend":{"title":null,"orient":"bottom-right"}}}},
  {"mark":{"type":"line","strokeWidth":1.5,"point":{"size":16,"filled":true}},"encoding":{"x":{"field":"t","type":"quantitative"},"y":{"field":"MC","type":"quantitative"},"color":{"datum":"MC","type":"nominal"},"shape":{"datum":"MC","type":"nominal"}}},
  {"mark":{"type":"line","strokeWidth":1.5,"point":{"size":16,"filled":true}},"encoding":{"x":{"field":"t","type":"quantitative"},"y":{"field":"SC","type":"quantitative"},"color":{"datum":"SC","type":"nominal"},"shape":{"datum":"SC","type":"nominal"}}}
 ]},
 {"width":350,"height":218,"data":{"name":"APR_L"},"layer":[
  {"mark":{"type":"area","color":"#a6a8ab","opacity":0.6},"encoding":{"x":{"field":"t","type":"quantitative","scale":{"domain":[0,100]},"axis":{"values":[0,20,40,60,80,100],"title":"Normalized Time (%)"}},"y":{"field":"lo","type":"quantitative","scale":{"domain":[-0.5,0.5]},"axis":{"values":[-0.5,-0.4,-0.3,-0.2,-0.1,0,0.1,0.2,0.3,0.4,0.5],"tickCount":11,"labelOverlap":false,"labelExpr":"replace(format(datum.value,'.1~f'),'−','-')","title":"Drift AP (m)"}},"y2":{"field":"hi"}}},
  {"mark":{"type":"line","strokeWidth":1.5,"point":{"size":16,"filled":true}},"encoding":{"x":{"field":"t","type":"quantitative"},"y":{"field":"HC","type":"quantitative"},"color":{"datum":"HC","type":"nominal","scale":{"domain":["HC","MC","SC"],"range":["#ff0000","#00e000","#0000ff"]},"legend":{"title":null,"orient":"bottom-right"}},"shape":{"datum":"HC","type":"nominal","scale":{"domain":["HC","MC","SC"],"range":["diamond","triangle-up","circle"]},"legend":{"title":null,"orient":"bottom-right"}}}},
  {"mark":{"type":"line","strokeWidth":1.5,"point":{"size":16,"filled":true}},"encoding":{"x":{"field":"t","type":"quantitative"},"y":{"field":"MC","type":"quantitative"},"color":{"datum":"MC","type":"nominal"},"shape":{"datum":"MC","type":"nominal"}}},
  {"mark":{"type":"line","strokeWidth":1.5,"point":{"size":16,"filled":true}},"encoding":{"x":{"field":"t","type":"quantitative"},"y":{"field":"SC","type":"quantitative"},"color":{"datum":"SC","type":"nominal"},"shape":{"datum":"SC","type":"nominal"}}}
 ]},
 {"width":350,"height":218,"data":{"name":"APR_A"},"layer":[
  {"mark":{"type":"area","color":"#a6a8ab","opacity":0.6},"encoding":{"x":{"field":"t","type":"quantitative","scale":{"domain":[0,100]},"axis":{"values":[0,20,40,60,80,100],"title":"Normalized Time (%)"}},"y":{"field":"lo","type":"quantitative","scale":{"domain":[-0.5,0.5]},"axis":{"values":[-0.5,-0.4,-0.3,-0.2,-0.1,0,0.1,0.2,0.3,0.4,0.5],"tickCount":11,"labelOverlap":false,"labelExpr":"replace(format(datum.value,'.1~f'),'−','-')","title":"Drift AP (m)"}},"y2":{"field":"hi"}}},
  {"mark":{"type":"line","strokeWidth":1.5,"point":{"size":16,"filled":true}},"encoding":{"x":{"field":"t","type":"quantitative"},"y":{"field":"HC","type":"quantitative"},"color":{"datum":"HC","type":"nominal","scale":{"domain":["HC","MC","SC"],"range":["#ff0000","#00e000","#0000ff"]},"legend":{"title":null,"orient":"bottom-right"}},"shape":{"datum":"HC","type":"nominal","scale":{"domain":["HC","MC","SC"],"range":["diamond","triangle-up","circle"]},"legend":{"title":null,"orient":"bottom-right"}}}},
  {"mark":{"type":"line","strokeWidth":1.5,"point":{"size":16,"filled":true}},"encoding":{"x":{"field":"t","type":"quantitative"},"y":{"field":"MC","type":"quantitative"},"color":{"datum":"MC","type":"nominal"},"shape":{"datum":"MC","type":"nominal"}}},
  {"mark":{"type":"line","strokeWidth":1.5,"point":{"size":16,"filled":true}},"encoding":{"x":{"field":"t","type":"quantitative"},"y":{"field":"SC","type":"quantitative"},"color":{"datum":"SC","type":"nominal"},"shape":{"datum":"SC","type":"nominal"}}}
 ]}
]}
]
}
